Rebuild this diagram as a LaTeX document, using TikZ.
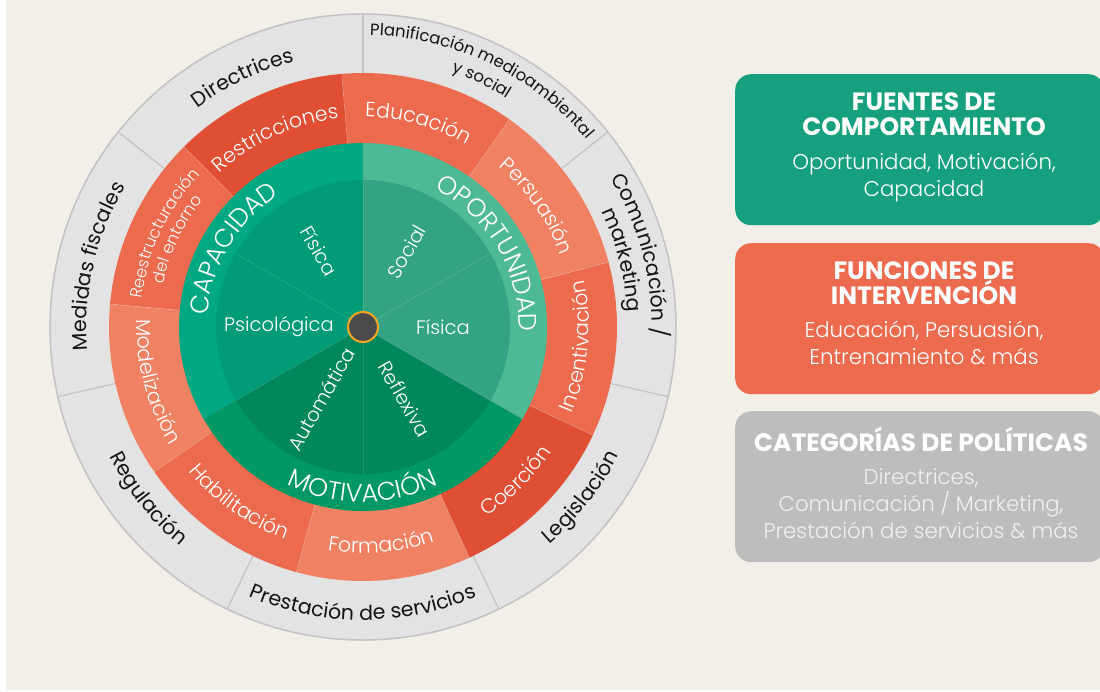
\documentclass[tikz,border=0pt]{standalone}
\usepackage{fontspec}
\setmainfont{Poppins}
\newfontfamily\lightf{Poppins Light}
\usetikzlibrary{decorations.text}
\definecolor{bg}{HTML}{F2EEE8}
\definecolor{grayseg}{HTML}{E3E3E3}
\definecolor{grayline}{HTML}{C3C3C3}
\definecolor{capR}{HTML}{00A884}
\definecolor{capI}{HTML}{009B77}
\definecolor{opR}{HTML}{4DB995}
\definecolor{opI}{HTML}{34A383}
\definecolor{moR}{HTML}{009966}
\definecolor{moI}{HTML}{00875C}
\definecolor{orD}{HTML}{E04E34}
\definecolor{orM}{HTML}{EC6A4D}
\definecolor{orL}{HTML}{F08263}
\definecolor{boxG}{HTML}{17A07E}
\definecolor{boxO}{HTML}{EC6A4D}
\definecolor{boxGr}{HTML}{BDBDBD}
\definecolor{hubfill}{HTML}{4A4A4A}
\definecolor{hubring}{HTML}{F5A623}
\definecolor{darktxt}{HTML}{141414}
\newcommand\toptext[4]{\pgfmathsetmacro\tsa{#2+75}%
  \path[decorate,decoration={text along path,text align=center,text={|#3|#4}}]
  ([shift={(O)}]\tsa:#1) arc[start angle=\tsa,delta angle=-150,radius=#1];}
\newcommand\bottext[4]{\pgfmathsetmacro\tsa{#2-75}%
  \path[decorate,decoration={text along path,text align=center,text={|#3|#4}}]
  ([shift={(O)}]\tsa:#1) arc[start angle=\tsa,delta angle=150,radius=#1];}
\newcommand\outf{\fontsize{20.5}{24}\selectfont\color{darktxt}}
\newcommand\outsf{\fontsize{16.5}{20}\selectfont\color{darktxt}}
\newcommand\midf{\lightf\fontsize{20.5}{24}\selectfont\color{white}}
\newcommand\midsf{\lightf\fontsize{16.5}{20}\selectfont\color{white}}
\newcommand\ringf{\lightf\fontsize{25.5}{30}\selectfont\color{white}}
\tikzset{
  inlab/.style={font=\lightf\fontsize{19.5}{23}\selectfont, text=white, inner sep=0pt},
  boxshape/.style={rounded corners=16pt, minimum width=369pt, minimum height=151pt, inner sep=0pt, anchor=north west, draw=none},
  headtxt/.style={font=\bfseries\fontsize{25}{29}\selectfont, text=white, anchor=base, inner sep=0pt},
  subtxt/.style={font=\lightf\fontsize{21.3}{25}\selectfont, text=white, anchor=base, inner sep=0pt},
}
\begin{document}
\begin{tikzpicture}[x=1pt,y=1pt]
\useasboundingbox (0,0) rectangle (1100,-691);
\fill[white] (0,0) rectangle (1100,-691);
\fill[bg] (6,0) rectangle (1100,-690);
\coordinate (O) at (363,-327);
% policy ring
\fill[grayseg] (O) circle[radius=313];
\foreach \a in {90,141.43,192.86,244.29,295.71,347.14,38.57}
  \draw[grayline,line width=1.2pt] ([shift={(O)}]\a:254) -- ([shift={(O)}]\a:313);
\draw[grayline,line width=1.5pt] (O) circle[radius=313];
% intervention ring
\foreach \s/\c in {54.8/orM, 94.8/orD, 134.8/orM, 174.8/orL, 214.8/orM, 254.8/orL, 294.8/orD, 334.8/orM, 14.8/orL}
  \fill[\c] (O) -- ([shift={(O)}]\s:254) arc[start angle=\s, delta angle=40, radius=254] -- cycle;
\foreach \s in {54.8, 94.8, 134.8, 174.8, 214.8, 254.8, 294.8, 334.8, 14.8}
  \draw[white,opacity=0.2,line width=0.6pt] ([shift={(O)}]\s:184) -- ([shift={(O)}]\s:254);
% COM-B ring
\fill[capR] (O) -- ([shift={(O)}]90:184) arc[start angle=90, delta angle=120, radius=184] -- cycle;
\fill[moR] (O) -- ([shift={(O)}]210:184) arc[start angle=210, delta angle=120, radius=184] -- cycle;
\fill[opR] (O) -- ([shift={(O)}]330:184) arc[start angle=330, delta angle=120, radius=184] -- cycle;
% inner sectors
\fill[capI] (O) -- ([shift={(O)}]90:147) arc[start angle=90, delta angle=120, radius=147] -- cycle;
\fill[moI] (O) -- ([shift={(O)}]210:147) arc[start angle=210, delta angle=120, radius=147] -- cycle;
\fill[opI] (O) -- ([shift={(O)}]330:147) arc[start angle=330, delta angle=120, radius=147] -- cycle;
\foreach \a in {30,90,150,210,270,330}
  \draw[white,opacity=0.12,line width=0.8pt] (O) -- ([shift={(O)}]\a:147);
% hub
\node[circle, fill=hubfill, draw=hubring, line width=2pt, minimum size=30pt, inner sep=0pt] (hub) at (O) {};
% policy labels
\toptext{274}{115.7}{\outf}{Directrices}
\toptext{276}{167.1}{\outf}{Medidas fiscales}
\toptext{292}{64.3}{\outsf}{Planificación medioambiental}
\toptext{270}{64.3}{\outsf}{y social}
\toptext{289}{14.5}{\outf}{Comunicación /}
\toptext{265}{14.5}{\outf}{marketing}
\bottext{285}{218.6}{\outf}{Regulación}
\bottext{293}{270}{\outf}{Prestación de servicios}
\bottext{286}{322}{\outf}{Legislación}
% intervention labels
\toptext{210}{74.8}{\midf}{Educación}
\toptext{210}{114.8}{\midf}{Restricciones}
\toptext{223}{154.8}{\midsf}{Reestructuración}
\toptext{204}{154.8}{\midsf}{del entorno}
\toptext{210}{34.8}{\midf}{Persuasión}
\bottext{226}{194.8}{\midf}{Modelización}
\bottext{226}{234.8}{\midf}{Habilitación}
\bottext{226}{274.8}{\midf}{Formación}
\bottext{226}{314.8}{\midf}{Coerción}
\bottext{226}{354.8}{\midf}{Incentivación}
% COM-B labels
\toptext{156}{149}{\ringf}{CAPACIDAD}
\toptext{156}{30.5}{\ringf}{OPORTUNIDAD}
\bottext{175}{270}{\ringf}{MOTIVACIÓN}
% inner labels
\node[inlab, rotate=-60] (fisc) at ([shift={(O)}]120:88) {Física};
\node[inlab, rotate=60] (soc) at ([shift={(O)}]60:87) {Social};
\node[inlab] (psi) at ([shift={(O)}]180:84) {Psicológica};
\node[inlab] (fiso) at ([shift={(O)}]0:80) {Física};
\node[inlab, rotate=60] (aut) at ([shift={(O)}]240:83) {Automática};
\node[inlab, rotate=-60] (ref) at ([shift={(O)}]300:83) {Reflexiva};
% legend boxes
\begin{scope}
\clip (0,0) rectangle (1100,-691);
\node[boxshape, fill=boxG] (box1) at (735,-74) {};
\node[boxshape, fill=boxO] (box2) at (735,-243) {};
\node[boxshape, fill=boxGr] (box3) at (735,-411) {};
\end{scope}
\node[headtxt] (h1a) at (924,-110) {FUENTES DE};
\node[headtxt] (h1b) at (924,-135) {COMPORTAMIENTO};
\node[subtxt] (s1a) at (924,-169) {Oportunidad, Motivación,};
\node[subtxt] (s1b) at (924,-196) {Capacidad};
\node[headtxt] (h2a) at (924,-279) {FUNCIONES DE};
\node[headtxt] (h2b) at (924,-304) {INTERVENCIÓN};
\node[subtxt] (s2a) at (924,-337) {Educación, Persuasión,};
\node[subtxt] (s2b) at (924,-364) {Entrenamiento \& más};
\node[headtxt] (h3a) at (921,-451) {CATEGORÍAS DE POLÍTICAS};
\node[subtxt, text=white!94!black] (s3a) at (921,-484) {Directrices,};
\node[subtxt, text=white!94!black] (s3b) at (921,-511) {Comunicación / Marketing,};
\node[subtxt, text=white!94!black] (s3c) at (921,-538) {Prestación de servicios \& más};
\end{tikzpicture}
\end{document}
